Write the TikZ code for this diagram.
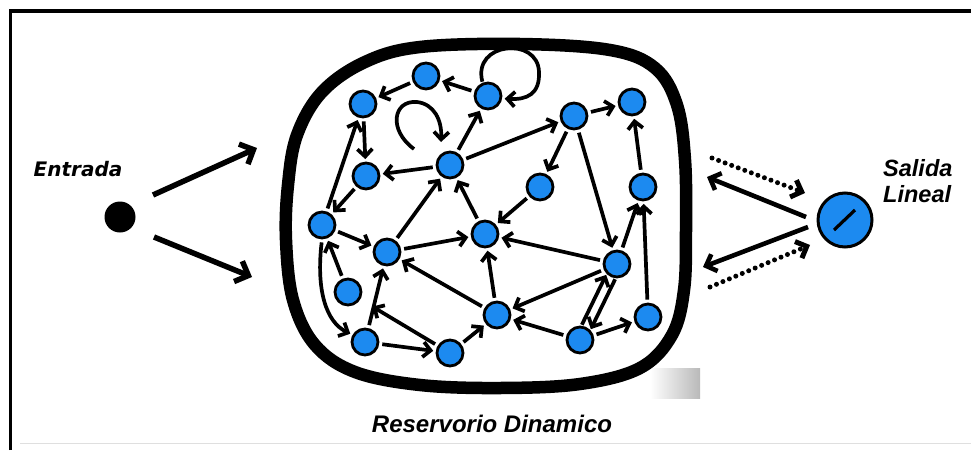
\documentclass[tikz,border=0pt]{standalone}
\usepackage{fontspec}
\newfontfamily\entfont{DejaVu Sans}
\newfontfamily\labfont{Liberation Sans}
\usetikzlibrary{arrows.meta,calc}
\definecolor{myblue}{RGB}{28,138,240}
\tikzset{
  rnode/.style={circle, draw=black, line width=2.8pt, fill=myblue, minimum size=26pt, inner sep=0pt},
  arr/.style={line width=3.7pt, -{Straight Barb[length=7.5pt,width=15pt]}, shorten >=2.5pt, shorten <=3pt},
  arrc/.style={line width=3.7pt, -{Straight Barb[length=7.5pt,width=15pt]}},
  inarr/.style={line width=5.5pt, -{Straight Barb[length=11pt,width=22pt]}},
  outarr/.style={line width=4.6pt, -{Straight Barb[length=9pt,width=18pt]}},
  dotarr/.style={outarr, dash pattern=on 0pt off 7pt, line cap=round, line width=5pt},
  lab/.style={font=\labfont\bfseries\itshape\fontsize{23.5}{27}\selectfont, inner sep=0pt},
}
\begin{document}
\begin{tikzpicture}[x=1pt,y=-1pt]
\useasboundingbox (0,0) rectangle (971,450);
% frame
\draw[line width=3.5pt] (10.5,450) -- (10.5,11) -- (971,11);
\draw[gray!25, line width=1pt] (20,443) -- (971,443);
% scan shading
\shade[left color=white, right color=gray!55] (650,368) rectangle (700,398);
% reservoir
\draw[line width=12.5pt, line join=round] plot[smooth cycle, tension=0.6] coordinates {
 (420,47) (520,44) (610,50) (655,68) (677,105) (685,160) (686,230) (684,290)
 (672,335) (640,368) (580,384) (500,388) (420,385) (355,372) (315,345)
 (293,300) (286,240) (288,185) (297,135) (322,92) (365,62)};
% nodes
\node[rnode] (N1) at (426,76) {};
\node[rnode] (N2) at (363,104) {};
\node[rnode] (N3) at (488,96) {};
\node[rnode] (N4) at (574,116) {};
\node[rnode] (N5) at (632,102) {};
\node[rnode] (N6) at (366,176) {};
\node[rnode] (N7) at (450,165) {};
\node[rnode] (N8) at (540,187) {};
\node[rnode] (N9) at (643,187) {};
\node[rnode] (N10) at (322,225) {};
\node[rnode] (N11) at (387,252) {};
\node[rnode] (N12) at (485,234) {};
\node[rnode] (N13) at (617,264) {};
\node[rnode] (N14) at (348,292) {};
\node[rnode] (N15) at (365,342) {};
\node[rnode] (N16) at (450,353) {};
\node[rnode] (N17) at (497,315) {};
\node[rnode] (N18) at (580,340) {};
\node[rnode] (N19) at (648,317) {};
% edges
\draw[arr] (N1) -- (N2);
\draw[arr] (N3) -- (N1);
\draw[arr] (N2) -- (N6);
\draw[arr] (N10) -- (N2);
\draw[arr] (N6) -- (N10);
\draw[arr] (N7) -- (N6);
\draw[arr] (N11) -- (N7);
\draw[arr] (N7) -- (N3);
\draw[arr] (N12) -- (N7);
\draw[arr] (N7) -- (N4);
\draw[arr] (N4) -- (N5);
\draw[arr] (N4) -- (N8);
\draw[arr] (N4) -- (N13);
\draw[arr] (N9) -- (N5);
\draw[arr] (N8) -- (N12);
\draw[arr] (N13) -- (N12);
\draw[arr] (N17) -- (N12);
\draw[arr] (N13) -- (N9);
\draw[arr] (N19) -- (N9);
\draw[arr] (N11) -- (N12);
\draw[arr] (N10) -- (N11);
\draw[arr] (N14) -- (N10);
\draw[arr] (N10.south) .. controls (316,290) and (326,322) .. (N15.150);
\draw[arr] (N15) -- (N11);
\draw[arr, shorten >=14pt] (N16) -- (N14);
\draw[arr] (N17) -- (N11);
\draw[arr] (N15) -- (N16);
\draw[arr] (N16) -- (N17);
\draw[arr] (N13) -- (N17);
\draw[arr] (N18) -- (N17);
\draw[arr, shorten <=14.5pt, shorten >=14.5pt] ($(N18)!5pt!90:(N13)$) -- ($(N13)!5pt!-90:(N18)$);
\draw[arr, shorten <=14.5pt, shorten >=14.5pt] ($(N13)!5pt!90:(N18)$) -- ($(N18)!5pt!-90:(N13)$);
\draw[arr] (N18) -- (N19);
% self loops
\coordinate (l7s) at (414,149);
\coordinate (l7e) at (441,142);
\draw[arrc] (l7s) .. controls (388,130) and (393,100) .. (417,102) .. controls (434,104) and (442,120) .. (l7e);
\draw[arr, shorten <=1pt] (N3.112) .. controls (472,42) and (538,36) .. (539,72) .. controls (540,94) and (527,100) .. (N3.-10);
% input
\node[circle, fill=black, minimum size=31pt, inner sep=0pt] (in) at (120,217) {};
\coordinate (ia1) at (153,195);
\coordinate (ia2) at (257,148);
\coordinate (ib1) at (154,237);
\coordinate (ib2) at (252,277);
\draw[inarr] (ia1) -- (ia2);
\draw[inarr] (ib1) -- (ib2);
\node[font=\entfont\bfseries\itshape\fontsize{20}{23}\selectfont, inner sep=0pt, anchor=base] (ent) at (78,176) {Entrada};
% output
\node[circle, draw=black, line width=3pt, fill=myblue, minimum size=54pt, inner sep=0pt] (out) at (845,220) {};
\draw[line width=3.2pt] ([shift={(-11,10)}]out.center) -- ([shift={(10,-10)}]out.center);
\coordinate (d1s) at (712,158);
\coordinate (d1e) at (805,193);
\coordinate (s1s) at (806,217);
\coordinate (s1e) at (707,177);
\coordinate (s2s) at (808,227);
\coordinate (s2e) at (703,267);
\coordinate (d2s) at (710,287);
\coordinate (d2e) at (810,245);
\draw[dotarr] (d1s) -- (d1e);
\draw[outarr] (s1s) -- (s1e);
\draw[outarr] (s2s) -- (s2e);
\draw[dotarr] (d2s) -- (d2e);
\node[lab, anchor=base west] (sal) at (883,176) {Salida};
\node[lab, anchor=base west] (lin) at (883,202) {Lineal};
\node[lab, font=\labfont\bfseries\itshape\fontsize{24}{28}\selectfont, anchor=base] (res) at (492,432) {Reservorio Dinamico};
\end{tikzpicture}
\end{document}
